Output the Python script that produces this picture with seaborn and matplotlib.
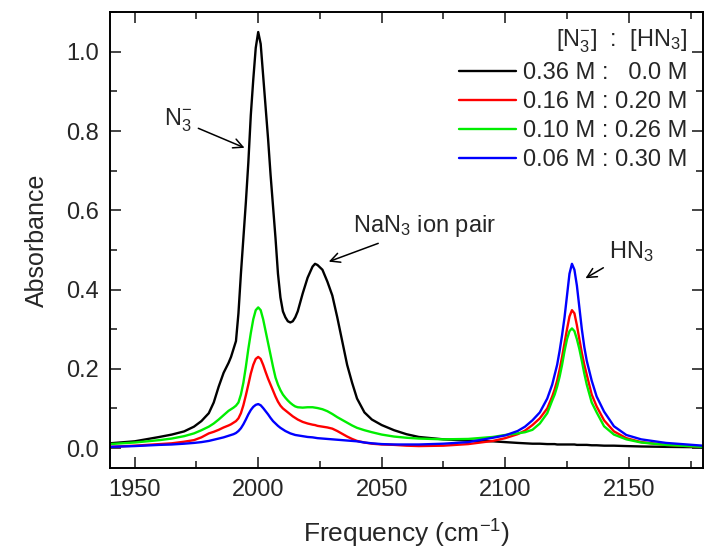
import pandas as pd
import seaborn as sns
import matplotlib.pyplot as plt
from matplotlib.ticker import MultipleLocator

# frequency grid (cm-1) and absorbance
freq = [1940, 1950, 1960, 1965, 1970, 1974, 1977, 1980, 1982, 1984, 1986, 1988,
        1989, 1990, 1991, 1992, 1993, 1994, 1995, 1996, 1997, 1998, 1999, 2000, 2001, 2002,
        2003, 2004, 2005, 2006, 2007, 2008, 2009, 2010, 2011, 2012, 2013, 2014, 2015, 2016,
        2018, 2020, 2022, 2023, 2024, 2026, 2028, 2030, 2032, 2034, 2036, 2038, 2040,
        2043, 2046, 2050, 2055, 2060, 2065, 2075,
        2085, 2095, 2100, 2105, 2108, 2111, 2114, 2117, 2119, 2120, 2121, 2122, 2123, 2124,
        2125, 2126, 2127, 2128, 2129, 2130, 2131, 2132, 2133, 2135, 2137, 2140, 2144, 2149,
        2155, 2165, 2180]

black = [0.012, 0.017, 0.028, 0.034, 0.042, 0.054, 0.068, 0.088, 0.115, 0.155, 0.19, 0.215,
         0.23, 0.25, 0.27, 0.34, 0.44, 0.53, 0.62, 0.72, 0.84, 0.93, 1.01, 1.05, 1.02, 0.94,
         0.86, 0.78, 0.69, 0.61, 0.53, 0.44, 0.38, 0.345, 0.33, 0.32, 0.317, 0.32, 0.33, 0.345,
         0.39, 0.43, 0.458, 0.465, 0.462, 0.45, 0.42, 0.385, 0.33, 0.27, 0.21, 0.165, 0.125,
         0.09, 0.072, 0.058, 0.045, 0.035, 0.028, 0.022,
         0.019, 0.017, 0.015, 0.013, 0.012, 0.011, 0.011, 0.010, 0.010, 0.010, 0.009, 0.009, 0.009, 0.009,
         0.009, 0.009, 0.009, 0.009, 0.008, 0.008, 0.008, 0.008, 0.008, 0.007, 0.007, 0.006, 0.006, 0.005,
         0.004, 0.003, 0.002]

red = [0.003, 0.006, 0.010, 0.012, 0.016, 0.020, 0.027, 0.037, 0.041, 0.046, 0.052, 0.057,
       0.060, 0.064, 0.068, 0.075, 0.088, 0.108, 0.133, 0.16, 0.188, 0.21, 0.225, 0.23, 0.225, 0.21,
       0.192, 0.175, 0.16, 0.145, 0.13, 0.117, 0.107, 0.10, 0.095, 0.09, 0.085, 0.08, 0.076, 0.072,
       0.066, 0.062, 0.059, 0.058, 0.056, 0.054, 0.052, 0.049, 0.043, 0.036, 0.029, 0.023, 0.018,
       0.014, 0.011, 0.009, 0.008, 0.006, 0.005, 0.006,
       0.010, 0.018, 0.025, 0.035, 0.044, 0.058, 0.075, 0.10, 0.13, 0.148, 0.17, 0.198, 0.23, 0.265,
       0.30, 0.332, 0.348, 0.34, 0.31, 0.275, 0.24, 0.21, 0.185, 0.135, 0.105, 0.07, 0.042, 0.025,
       0.015, 0.008, 0.003]

green = [0.010, 0.014, 0.020, 0.024, 0.030, 0.037, 0.045, 0.054, 0.062, 0.072, 0.083, 0.094,
         0.098, 0.102, 0.107, 0.115, 0.135, 0.165, 0.205, 0.25, 0.29, 0.325, 0.348, 0.355, 0.348, 0.325,
         0.295, 0.265, 0.235, 0.205, 0.178, 0.16, 0.146, 0.135, 0.127, 0.12, 0.114, 0.109, 0.105, 0.103,
         0.102, 0.103, 0.103, 0.102, 0.101, 0.098, 0.093, 0.086, 0.078, 0.071, 0.064, 0.057, 0.051,
         0.045, 0.040, 0.034, 0.029, 0.026, 0.024, 0.022,
         0.023, 0.028, 0.033, 0.037, 0.040, 0.046, 0.062, 0.088, 0.12, 0.135, 0.155, 0.18, 0.21, 0.245,
         0.275, 0.295, 0.302, 0.295, 0.275, 0.25, 0.22, 0.188, 0.16, 0.115, 0.09, 0.055, 0.034, 0.022,
         0.014, 0.008, 0.003]

blue = [0.003, 0.005, 0.008, 0.009, 0.011, 0.013, 0.015, 0.018, 0.021, 0.024, 0.027, 0.031,
        0.033, 0.035, 0.038, 0.043, 0.05, 0.06, 0.072, 0.085, 0.096, 0.104, 0.109, 0.111, 0.108, 0.101,
        0.093, 0.085, 0.076, 0.068, 0.062, 0.056, 0.051, 0.047, 0.043, 0.040, 0.037, 0.035, 0.033, 0.032,
        0.030, 0.028, 0.027, 0.026, 0.025, 0.024, 0.023, 0.022, 0.021, 0.020, 0.019, 0.018, 0.017,
        0.014, 0.012, 0.010, 0.009, 0.009, 0.009, 0.011,
        0.015, 0.026, 0.032, 0.043, 0.054, 0.070, 0.090, 0.125, 0.16, 0.185, 0.21, 0.245, 0.285, 0.33,
        0.385, 0.44, 0.465, 0.45, 0.41, 0.355, 0.30, 0.255, 0.22, 0.17, 0.13, 0.092, 0.055, 0.033,
        0.022, 0.013, 0.006]

labels = ["0.36 M :   0.0 M", "0.16 M : 0.20 M", "0.10 M : 0.26 M", "0.06 M : 0.30 M"]
colors = ["black", "#ff0000", "#00ee00", "#0000ff"]

frames = []
for lab, vals in zip(labels, [black, red, green, blue]):
    frames.append(pd.DataFrame({"freq": freq, "abs": vals, "sample": lab}))
df = pd.concat(frames, ignore_index=True)

sns.set_style("ticks")
plt.rcParams["font.family"] = ["Liberation Sans", "DejaVu Sans"]
plt.rcParams["mathtext.fontset"] = "custom"
plt.rcParams["mathtext.rm"] = "Liberation Sans"
plt.rcParams["mathtext.it"] = "Liberation Sans"

fig = plt.figure(figsize=(7.05, 5.55), dpi=100)
ax = fig.add_axes([0.156, 0.157, 0.841, 0.821])

sns.lineplot(data=df, x="freq", y="abs", hue="sample", palette=colors, linewidth=1.7,
             sort=False, estimator=None, ax=ax)

ax.set_xlim(1940, 2180)
ax.set_ylim(-0.05, 1.1)
ax.xaxis.set_major_locator(MultipleLocator(50))
ax.xaxis.set_minor_locator(MultipleLocator(25))
ax.yaxis.set_major_locator(MultipleLocator(0.2))
ax.yaxis.set_minor_locator(MultipleLocator(0.1))
ax.tick_params(which="both", direction="in", top=True, right=True, labelsize=17, width=1.2)
ax.tick_params(which="major", length=8, pad=8)
ax.tick_params(which="minor", length=5)
for s in ax.spines.values():
    s.set_linewidth(1.4)
    s.set_color("black")

ax.set_xlabel("Frequency (cm$^{-1}$)", fontsize=19, labelpad=12)
ax.set_ylabel("Absorbance", fontsize=18, labelpad=12)

leg = ax.legend(title="[N$_3^{-}$]  :  [HN$_3$]", loc="upper right", frameon=False,
                fontsize=17, title_fontsize=17, handlelength=2.4, handletextpad=0.3,
                labelspacing=0.3, borderaxespad=0.2, borderpad=0.45, alignment="right")

arrow = dict(arrowstyle="->", color="black", lw=1.1)
ax.annotate("N$_3^{-}$", xy=(1995.5, 0.755), xytext=(1962, 0.815), fontsize=17, arrowprops=arrow)
ax.annotate("NaN$_3$ ion pair", xy=(2027.5, 0.468), xytext=(2038.5, 0.545), fontsize=17,
            arrowprops=arrow)
ax.annotate("HN$_3$", xy=(2131.5, 0.425), xytext=(2142, 0.48), fontsize=17, arrowprops=arrow)

fig.savefig("out.png", dpi=100)
